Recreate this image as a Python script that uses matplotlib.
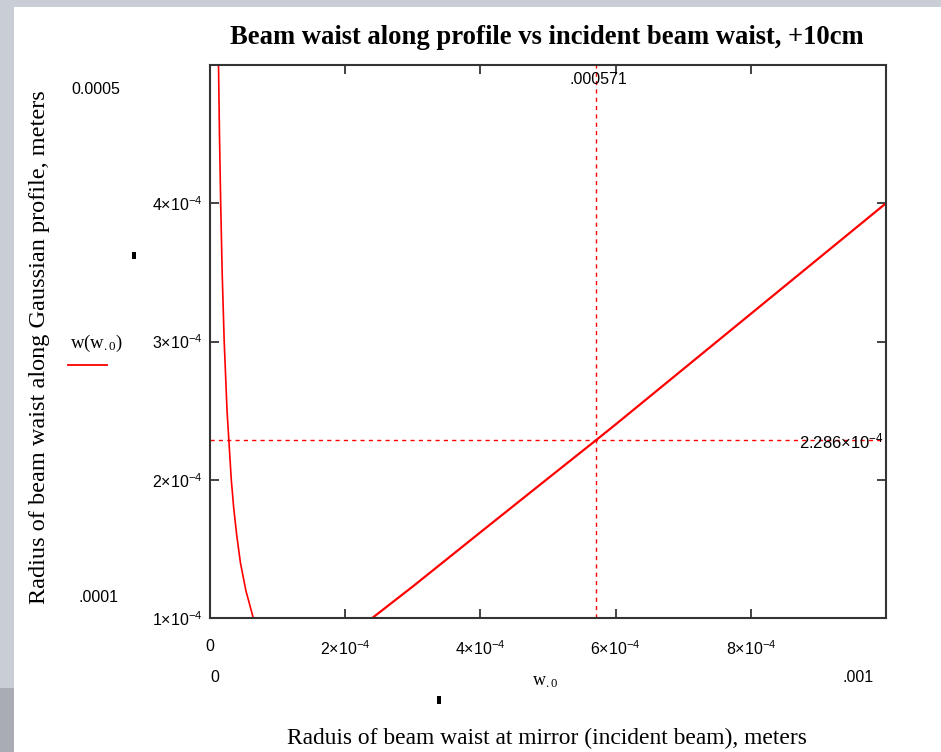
import matplotlib
matplotlib.use("Agg")
import matplotlib.pyplot as plt
from matplotlib.patches import Rectangle
import numpy as np

# ---- data ----
w0_left = [1.15e-5, 1.26e-5, 1.4e-5, 1.58e-5, 1.8e-5, 2.1e-5, 2.52e-5, 3.15e-5,
           3.5e-5, 3.95e-5, 4.5e-5, 5.3e-5, 6.4e-5, 8.0e-5, 1.2e-4, 1.6e-4, 2.0e-4]
w_left = [5.5e-4, 5.0e-4, 4.5e-4, 4.0e-4, 3.5e-4, 3.0e-4, 2.5e-4, 2.0e-4,
          1.8e-4, 1.6e-4, 1.4e-4, 1.2e-4, 1.0e-4, 0.85e-4, 0.71e-4, 0.75e-4, 0.86e-4]
w0_right = [2.4e-4, 3.0e-4, 4.0e-4, 5.0e-4, 5.71e-4, 6.0e-4, 7.0e-4, 8.0e-4, 9.0e-4, 1.0e-3]
w_right = [1.0e-4, 1.228e-4, 1.62e-4, 2.01e-4, 2.286e-4, 2.4e-4, 2.8e-4, 3.2e-4, 3.6e-4, 4.0e-4]

marker_x = 0.000571
marker_y = 2.286e-4

x_ticks = [0, 2e-4, 4e-4, 6e-4, 8e-4]
x_tick_labels = ["0", r"2×10$^{-4}$", r"4×10$^{-4}$", r"6×10$^{-4}$", r"8×10$^{-4}$"]
y_ticks = [1e-4, 2e-4, 3e-4, 4e-4]
y_tick_labels = [r"1×10$^{-4}$", r"2×10$^{-4}$", r"3×10$^{-4}$", r"4×10$^{-4}$"]
x_lim = (0, 0.001)
y_lim = (1e-4, 5e-4)

plt.rcParams['mathtext.fontset'] = 'custom'
plt.rcParams['mathtext.rm'] = 'Liberation Sans'
plt.rcParams['mathtext.it'] = 'Liberation Sans'
plt.rcParams['mathtext.default'] = 'regular'

TF = 11.5  # tick font size
W, H = 941, 752
fig = plt.figure(figsize=(W / 100, H / 100), dpi=100, facecolor='#c8cdd6')

# white panel of the screenshot
fig.patches.append(Rectangle((14 / W, 0), 1 - 14 / W, 1 - 7 / H, transform=fig.transFigure,
                             facecolor='white', edgecolor='none', zorder=-2))
fig.patches.append(Rectangle((0, 0), 14 / W, 64 / H, transform=fig.transFigure,
                             facecolor='#a9adb3', edgecolor='none', zorder=-2))

ax = fig.add_axes([210 / W, (H - 618) / H, 676 / W, 553 / H])
ax.set_zorder(2)
ax.set_facecolor('white')

red = '#ff0000'
ax.plot(w0_left, w_left, color=red, lw=1.2, clip_on=True)
ax.plot(w0_right, w_right, color=red, lw=1.6, clip_on=True)
ax.axvline(marker_x, color=red, lw=1.0, ls=(0, (3, 3)))
ax.axhline(marker_y, color=red, lw=1.0, ls=(0, (3, 3)))

ax.set_xlim(*x_lim)
ax.set_ylim(*y_lim)

ax.set_xticks(x_ticks)
ax.set_xticklabels(x_tick_labels, fontfamily='Liberation Sans', fontsize=TF)
ax.set_yticks(y_ticks)
ax.set_yticklabels(y_tick_labels, fontfamily='Liberation Sans', fontsize=TF)
ax.tick_params(direction='in', length=6.5, width=1.2, top=True, right=True,
               labeltop=False, labelright=False, color='#222222')
ax.tick_params(axis='x', pad=15)
ax.tick_params(axis='y', pad=5)
for s in ax.spines.values():
    s.set_linewidth(1.5)
    s.set_color('#333333')

# marker labels
ax.text(marker_x + 0.000003, 0.988, ".000571", transform=ax.get_xaxis_transform(), ha='center', va='top',
        fontfamily='Liberation Sans', fontsize=TF)
ax.text(0.997, marker_y - 0.000001, r"2.286×10$^{-4}$", transform=ax.get_yaxis_transform(), ha='right',
        va='center', fontfamily='Liberation Sans', fontsize=12)

# title and axis labels
fig.text(547 / W, 1 - 38 / H, "Beam waist along profile vs incident beam waist, +10cm",
         ha='center', va='center', fontfamily='Liberation Serif', fontweight='bold', fontsize=19.2)
fig.text(40 / W, 1 - 347 / H, "Radius of beam waist along Gaussian profile, meters",
         ha='center', va='center', rotation=90, fontfamily='Liberation Serif', fontsize=17.5)
fig.text(547 / W, 1 - 738 / H, "Raduis of beam waist at mirror (incident beam), meters",
         ha='center', va='center', fontfamily='Liberation Serif', fontsize=16.9)

# Mathcad range labels
fig.text(120 / W, 1 - 89 / H, "0.0005", ha='right', va='center', fontfamily='Liberation Sans', fontsize=TF)
fig.text(118 / W, 1 - 597 / H, ".0001", ha='right', va='center', fontfamily='Liberation Sans', fontsize=TF)
fig.text(215 / W, 1 - 678 / H, "0", ha='center', va='center', fontfamily='Liberation Sans', fontsize=TF)
fig.text(858 / W, 1 - 678 / H, ".001", ha='center', va='center', fontfamily='Liberation Sans', fontsize=TF)
fig.text(545 / W, 1 - 681 / H, r"w$_{.0}$", ha='center', va='center', fontfamily='Liberation Serif', fontsize=13)

# legend
fig.text(97 / W, 1 - 343 / H, r"w(w$_{.0}$)", ha='center', va='center', fontfamily='Liberation Serif', fontsize=13.5)
fig.lines.append(plt.Line2D([68 / W, 107 / W], [1 - 365 / H, 1 - 365 / H], transform=fig.transFigure,
                            color=red, lw=1.3))

# small placeholder marks
fig.patches.append(Rectangle((437 / W, 1 - 704 / H), 4 / W, 8 / H, transform=fig.transFigure,
                             facecolor='black', edgecolor='none'))
fig.patches.append(Rectangle((132 / W, 1 - 259 / H), 4 / W, 7 / H, transform=fig.transFigure,
                             facecolor='black', edgecolor='none'))

fig.savefig("out.png", dpi=100, facecolor=fig.get_facecolor())
